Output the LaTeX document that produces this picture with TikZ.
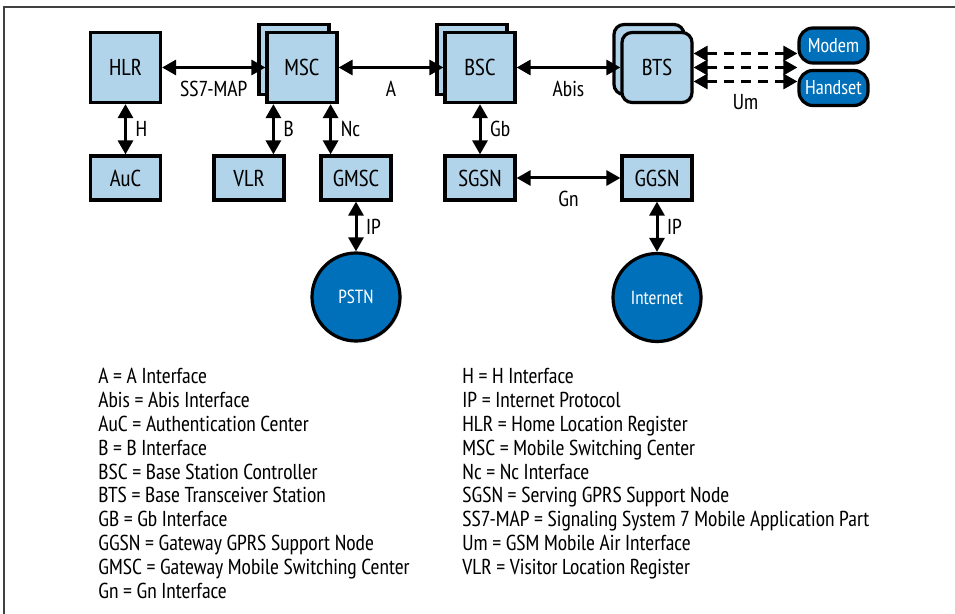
\documentclass[tikz,border=0pt]{standalone}
\usepackage{fontspec}
\setmainfont{PT Sans Narrow}
\usepackage{tikz}
\usetikzlibrary{arrows.meta,positioning,shadows,calc}
\definecolor{boxblue}{RGB}{178,212,234}
\definecolor{deepblue}{RGB}{0,112,186}

\begin{document}
\begin{tikzpicture}[
  x=0.5pt, y=-0.5pt,
  font=\fontsize{11.5}{13}\selectfont,
  % --- Node styles ---
  netbox/.style={
    rectangle,
    draw,
    line width=1.6pt,
    fill=boxblue,
    minimum width=35pt, % square units
    minimum height=35pt,
    inner sep=0pt,
    drop shadow={shadow xshift=0.8pt, shadow yshift=-0.8pt, opacity=0.3}
  },
  lowbox/.style={
    netbox,
    minimum height=22pt
  },
  btsbox/.style={
    netbox,
    rounded corners=5pt
  },
  terminal/.style={
    rectangle,
    draw,
    line width=1.6pt,
    fill=deepblue,
    text=white,
    rounded corners=7pt,
    minimum width=34.5pt,
    minimum height=17.5pt,
    inner sep=0pt,
    font=\fontsize{10}{11}\selectfont
  },
  network/.style={
    circle,
    draw,
    line width=1.6pt,
    fill=deepblue,
    text=white,
    minimum size=44pt,
    inner sep=0pt,
    font=\fontsize{9.5}{10}\selectfont,
    drop shadow={shadow xshift=0.8pt, shadow yshift=-0.8pt, opacity=0.3}
  },
  line/.style={
    {Triangle[length=7pt,width=7.5pt]}-{Triangle[length=7pt,width=7.5pt]},
    line width=1.5pt
  },
  dline/.style={
    line,
    dash pattern=on 5pt off 3.5pt
  },
  lbl/.style={font=\fontsize{10.8}{12}\selectfont},
  keyline/.style={anchor=base west, inner sep=0pt, font=\fontsize{10.8}{12}\selectfont}
]
\useasboundingbox (0,0) rectangle (955,614);

% ---- FRAME ----
\draw[line width=0.8pt, black!75] (4,614) -- (4,7) -- (955,7);

% ---- TOP ROW ----
\node[netbox] (hlr) at (125.5,67.5) {HLR};
\node[netbox] (mscb) at (294,59.5) {};
\node[netbox] (msc) at (302,67.5) {MSC};
\node[netbox] (bscb) at (472,59.5) {};
\node[netbox] (bsc) at (480,67.5) {BSC};
\node[btsbox] (btsb) at (649,59.5) {};
\node[btsbox] (bts) at (657,67.5) {BTS};
\node[terminal] (modem) at (833.5,45.5) {Modem};
\node[terminal] (handset) at (833.5,88) {Handset};

% ---- BOTTOM ROW ----
\node[lowbox] (auc) at (125.5,178) {AuC};
\node[lowbox] (vlr) at (249,178) {VLR};
\node[lowbox] (gmsc) at (356,178) {GMSC};
\node[lowbox] (sgsn) at (480,178) {SGSN};
\node[lowbox] (ggsn) at (657,178) {GGSN};

\node[network] (pstn) at (356,297) {PSTN};
\node[network] (internet) at (657,297.5) {Internet};

% ---- INTERFACES ----
\draw[line] (hlr) -- node[lbl, below=2.5pt] {SS7-MAP} (msc);
\draw[line] (msc) -- node[lbl, below=2.5pt] {A} (bsc);
\draw[line] (bsc) -- node[lbl, below=2.5pt] {Abis} (bts);
\draw[line] (hlr) -- node[lbl, right=1pt] {H} (auc);
\draw[line] ([xshift=4pt]msc.south west) -- node[lbl, right=1pt] {B} ([xshift=4pt]msc.south west |- vlr.north);
\draw[line] ([xshift=-4pt]msc.south east) -- node[lbl, right=1pt] {Nc} ([xshift=-4pt]msc.south east |- gmsc.north);
\draw[line] (bsc) -- node[lbl, right=1pt] {Gb} (sgsn);
\draw[line] (sgsn) -- node[lbl, below=2.5pt] {Gn} (ggsn);
\draw[line] (gmsc) -- node[lbl, right=1pt] {IP} (pstn);
\draw[line] (ggsn) -- node[lbl, right=1pt] {IP} (internet);

% Um air interface
\draw[dline] ([yshift=7pt]bts.east) -- ([yshift=7pt]bts.east -| modem.west);
\draw[dline] (bts.east) -- (bts.east -| modem.west);
\draw[dline] ([yshift=-7pt]bts.east) -- node[lbl, below=2.5pt] {Um} ([yshift=-7pt]bts.east -| handset.west);

% ---- KEY ----
\node[keyline] (ka) at (98,384) {A = A Interface};
\node[keyline] (kabis) at (98,407.8) {Abis = Abis Interface};
\node[keyline] (kauc) at (98,431.6) {AuC = Authentication Center};
\node[keyline] (kb) at (98,455.4) {B = B Interface};
\node[keyline] (kbsc) at (98,479.2) {BSC = Base Station Controller};
\node[keyline] (kbts) at (98,503) {BTS = Base Transceiver Station};
\node[keyline] (kgb) at (98,526.8) {GB = Gb Interface};
\node[keyline] (kggsn) at (98,550.6) {GGSN = Gateway GPRS Support Node};
\node[keyline] (kgmsc) at (98,574.4) {GMSC = Gateway Mobile Switching Center};
\node[keyline] (kgn) at (98,598.2) {Gn = Gn Interface};

\node[keyline] (kh) at (462,384) {H = H Interface};
\node[keyline] (kip) at (462,407.8) {IP = Internet Protocol};
\node[keyline] (khlr) at (462,431.6) {HLR = Home Location Register};
\node[keyline] (kmsc) at (462,455.4) {MSC = Mobile Switching Center};
\node[keyline] (knc) at (462,479.2) {Nc = Nc Interface};
\node[keyline] (ksgsn) at (462,503) {SGSN = Serving GPRS Support Node};
\node[keyline] (kss) at (462,526.8) {SS7-MAP = Signaling System 7 Mobile Application Part};
\node[keyline] (kum) at (462,550.6) {Um = GSM Mobile Air Interface};
\node[keyline] (kvlr) at (462,574.4) {VLR = Visitor Location Register};

\end{tikzpicture}
\end{document}
